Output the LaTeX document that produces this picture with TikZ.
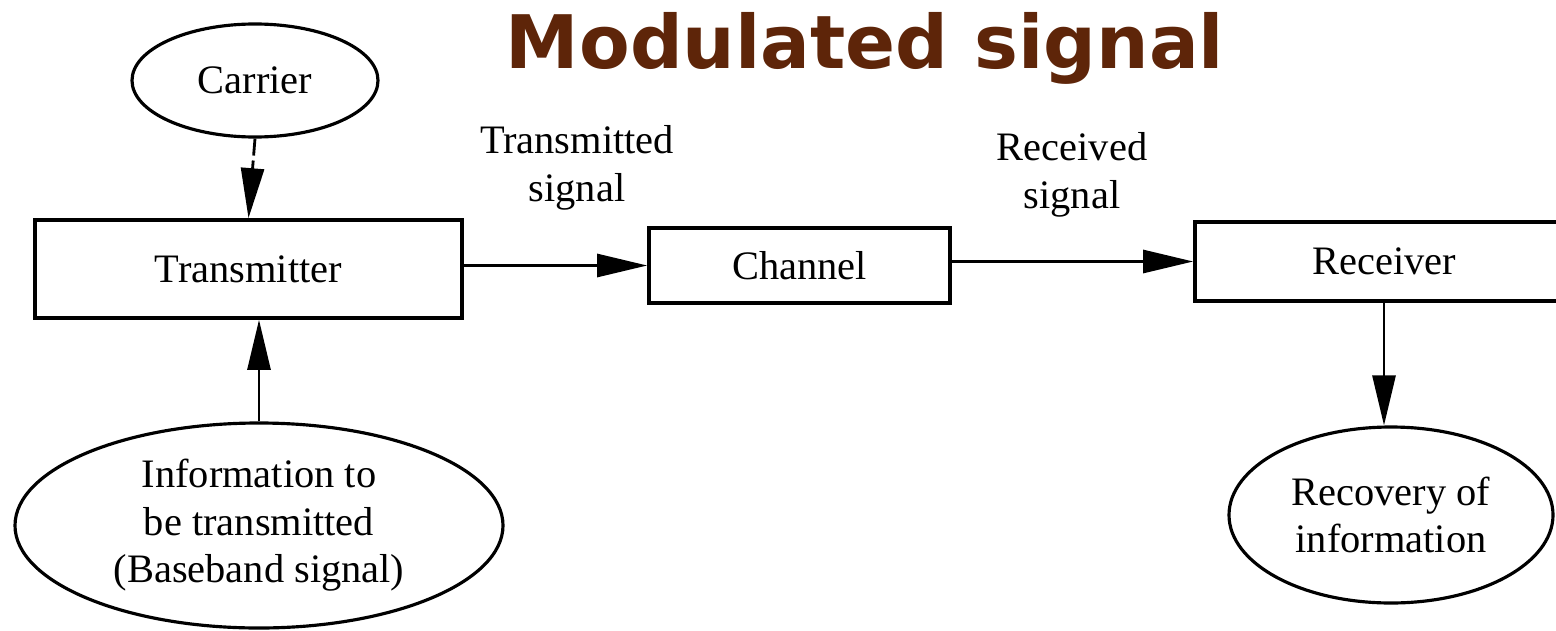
\documentclass[tikz,border=0pt]{standalone}
\usepackage{fontspec}
\setmainfont{Liberation Serif}
\newfontfamily\titlefont{DejaVu Sans}
\usetikzlibrary{arrows.meta,shapes.geometric}
\definecolor{titlebrown}{RGB}{94,37,9}

\begin{document}
\begin{tikzpicture}[
  font=\fontsize{23}{27}\selectfont,
  blk/.style={rectangle, draw, line width=2.1pt, inner sep=0pt},
  oval/.style={ellipse, draw, line width=1.8pt, inner sep=0pt, align=center},
  lbl/.style={align=center, inner sep=0pt},
  arr/.style={line width=1.6pt, -{Triangle[length=1cm, width=0.46cm]}},
]
\path[use as bounding box, clip] (0,0) rectangle (31.12,12.6);

% title
\node[anchor=base, text=titlebrown, font=\titlefont\bfseries\fontsize{42}{50}\selectfont] (title) at (17.30,11.24) {Modulated signal};

% inputs of the transmitter
\node[oval, minimum width=4.92cm, minimum height=2.26cm] (carrier) at (5.10,10.99) {Carrier};
\node[oval, minimum width=9.76cm, minimum height=4.1cm] (info) at (5.18,2.09) {Information to\\be transmitted\\(Baseband signal)};

% chain
\node[blk, minimum width=8.54cm, minimum height=1.96cm] (tx) at (4.97,7.22) {Transmitter};
\node[blk, minimum width=6.02cm, minimum height=1.5cm] (ch) at (15.99,7.29) {Channel};
\node[blk, minimum width=7.56cm, minimum height=1.58cm] (rx) at (27.68,7.37) {Receiver};

\node[oval, minimum width=6.48cm, minimum height=3.52cm] (rec) at (27.82,2.30) {Recovery of\\information};

% signal names
\node[lbl] (txsig) at (11.54,9.24) {Transmitted\\signal};
\node[lbl] (rxsig) at (21.44,9.10) {Received\\signal};

% arrows
\draw[arr, dash pattern=on 0.34cm off 0.1cm] (carrier.south) -- (tx.north);
\draw[arr] (info.north) -- (info.north |- tx.south);
\draw[arr] (tx.east |- ch.west) -- (ch.west);
\draw[arr] (rx.west -| ch.east) -- (rx.west);
\draw[arr] (rx.south) -- (rx.south |- rec.north);

\end{tikzpicture}
\end{document}
